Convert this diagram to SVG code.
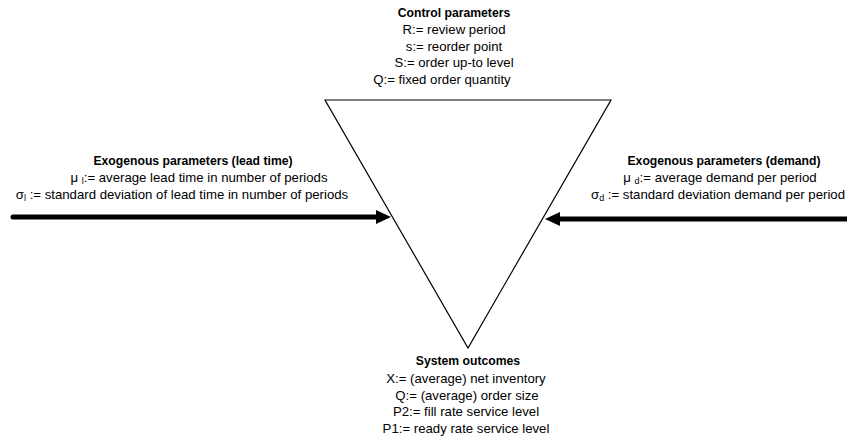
<svg xmlns="http://www.w3.org/2000/svg" width="847" height="439" viewBox="0 0 847 439">
  <defs>
    <style>
      text { font-family: "Liberation Sans", Arial, sans-serif; font-size: 13.2px; fill: #000; text-anchor: middle; }
      .title { font-weight: bold; font-size: 12.2px; }
      .sub { font-size: 9px; }
      .frame { fill: #fff; stroke: #000; stroke-width: 1.2; }
      .flow { fill: none; stroke: #000; stroke-width: 5; }
    </style>
    <!-- arrowhead: tip sits 13px past the end of the line -->
    <marker id="head" markerUnits="userSpaceOnUse" markerWidth="16" markerHeight="14" refX="2" refY="7" orient="auto">
      <path d="M0,0 L15,7 L0,14 Z" fill="#000"/>
    </marker>
  </defs>
  <rect width="847" height="439" fill="#fff"/>

  <!-- central inverted triangle -->
  <g id="system">
    <polygon class="frame" points="325,100 611,100 468,348"/>
  </g>

  <!-- input arrows -->
  <g id="connectors">
    <line class="flow" x1="13" y1="217" x2="378" y2="217" marker-end="url(#head)" style="stroke-linecap:round"/>
    <line class="flow" x1="852" y1="219" x2="558" y2="219" marker-end="url(#head)"/>
  </g>

  <g id="control-parameters">
    <text class="title" x="454" y="17">Control parameters</text>
    <text x="454" y="34">R:= review period</text>
    <text x="454" y="51">s:= reorder point</text>
    <text x="454" y="67">S:= order up-to level</text>
    <text x="442" y="84">Q:= fixed order quantity</text>
  </g>

  <g id="lead-time-parameters">
    <text class="title" x="193" y="165">Exogenous parameters (lead time)</text>
    <text x="199" y="182">μ <tspan class="sub" dy="2">l</tspan><tspan dy="-2">:= average lead time in number of periods</tspan></text>
    <text x="182" y="199">σ<tspan class="sub" dy="2">l</tspan><tspan dy="-2"> := standard deviation of lead time in number of periods</tspan></text>
  </g>

  <g id="demand-parameters">
    <text class="title" x="724" y="165">Exogenous parameters (demand)</text>
    <text x="720" y="182">μ <tspan class="sub" dy="2">d</tspan><tspan dy="-2">:= average demand per period</tspan></text>
    <text x="845" y="199" style="text-anchor:end">σ<tspan class="sub" dy="2">d</tspan><tspan dy="-2"> := standard deviation demand per period</tspan></text>
  </g>

  <g id="system-outcomes">
    <text class="title" x="468" y="365">System outcomes</text>
    <text x="466" y="383">X:= (average) net inventory</text>
    <text x="467" y="400">Q:= (average) order size</text>
    <text x="466" y="416">P2:= fill rate service level</text>
    <text x="466" y="433">P1:= ready rate service level</text>
  </g>
</svg>
